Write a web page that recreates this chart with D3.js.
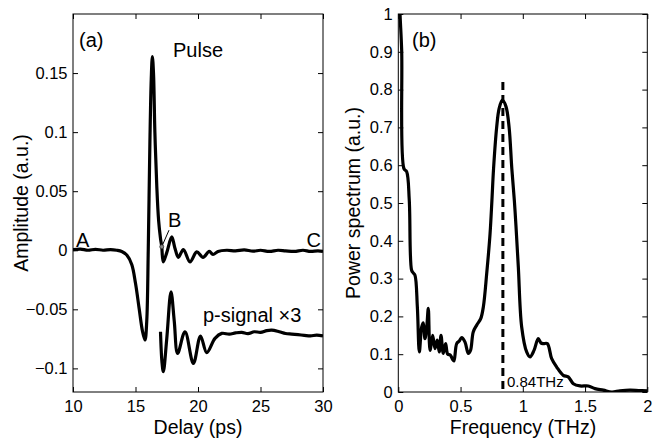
<!DOCTYPE html>
<html>
<head>
<meta charset="utf-8">
<script src="https://cdn.jsdelivr.net/npm/d3@7"></script>
<style>
  body { margin: 0; background: #fff; }
  text { font-family: "Liberation Sans", Arial, sans-serif; fill: #000; }
</style>
</head>
<body>
<div id="chart"></div>
<script>
// panel (a): time-domain pulse, delay in ps
const pulseT = [10, 10.6, 11.2, 11.8, 12.4, 13, 13.5, 13.9, 14.3, 14.7, 15.0, 15.3, 15.55, 15.76, 15.9, 16.02, 16.15, 16.26, 16.35, 16.44, 16.55, 16.7, 16.85, 17.0, 17.1, 17.22, 17.5, 17.9, 18.15, 18.43, 18.83, 19.36, 19.9, 20.4, 20.9, 21.2, 21.6, 22.3, 23, 23.7, 24.4, 25, 25.7, 26.4, 27, 27.7, 28.4, 29, 29.6, 30];
const pulseV = [0.0005, 0.001, 0.0, 0.0008, 0.0, 0.0005, 0.0, -0.001, -0.004, -0.012, -0.028, -0.05, -0.068, -0.076, -0.06, 0.0, 0.09, 0.145, 0.164, 0.15, 0.1, 0.055, 0.025, 0.01, 0.003, -0.0099, -0.002, 0.0113, 0.002, -0.006, 0.0006, -0.0099, -0.0014, -0.006, -0.001, -0.0036, -0.001, 0.0, -0.0005, 0.0003, -0.0008, 0.0, -0.001, 0.0, -0.0005, -0.001, 0.0, -0.001, -0.0005, -0.001];

// p-signal x3 (plotted as is)
const psigT = [17.0, 17.12, 17.23, 17.5, 17.84, 18.1, 18.37, 18.96, 19.63, 20.2, 20.7, 21.36, 21.9, 22.5, 23, 23.5, 24, 24.5, 25, 25.5, 25.9, 26.5, 27, 27.5, 28, 28.5, 29, 29.5, 30];
const psigV = [-0.069, -0.095, -0.1028, -0.075, -0.0352, -0.06, -0.0873, -0.069, -0.0957, -0.0726, -0.0867, -0.0746, -0.0704, -0.071, -0.070, -0.0695, -0.0705, -0.069, -0.0695, -0.068, -0.0676, -0.069, -0.0705, -0.071, -0.0715, -0.072, -0.0725, -0.0718, -0.0726];

// panel (b): power spectrum, frequency in THz
const freq = [0.005, 0.014, 0.027, 0.046, 0.067, 0.088, 0.107, 0.12, 0.134, 0.153, 0.169, 0.188, 0.201, 0.214, 0.228, 0.241, 0.255, 0.276, 0.295, 0.313, 0.329, 0.343, 0.361, 0.38, 0.397, 0.417, 0.437, 0.447, 0.469, 0.49, 0.509, 0.536, 0.562, 0.58, 0.602, 0.63, 0.662, 0.683, 0.71, 0.737, 0.752, 0.765, 0.79, 0.81, 0.836, 0.865, 0.89, 0.912, 0.932, 0.945, 0.964, 0.991, 1.031, 1.058, 1.09, 1.124, 1.145, 1.165, 1.197, 1.232, 1.272, 1.325, 1.365, 1.406, 1.46, 1.526, 1.58, 1.647, 1.714, 1.78, 1.86, 1.93, 2.0];
const power = [1.1, 1.0, 0.905, 0.59, 0.583, 0.508, 0.322, 0.315, 0.309, 0.225, 0.106, 0.172, 0.183, 0.141, 0.17, 0.221, 0.11, 0.15, 0.115, 0.137, 0.106, 0.15, 0.102, 0.128, 0.1, 0.098, 0.086, 0.082, 0.128, 0.135, 0.144, 0.132, 0.102, 0.11, 0.159, 0.177, 0.194, 0.225, 0.313, 0.419, 0.507, 0.59, 0.70, 0.75, 0.772, 0.755, 0.70, 0.59, 0.507, 0.44, 0.331, 0.172, 0.106, 0.093, 0.11, 0.141, 0.13, 0.128, 0.128, 0.088, 0.066, 0.044, 0.04, 0.022, 0.016, 0.016, 0.009, 0.005, 0.0, 0.003, 0.005, 0.004, 0.003];

const peakFreq = 0.84;
const peakLabel = "0.84THz";

const delayTicks = [10, 15, 20, 25, 30];
const ampTicks = [-0.1, -0.05, 0, 0.05, 0.1, 0.15];
const freqTicks = [0, 0.5, 1, 1.5, 2];
const powTicks = [0, 0.1, 0.2, 0.3, 0.4, 0.5, 0.6, 0.7, 0.8, 0.9, 1];

const W = 661, H = 439;
const svg = d3.select("#chart").append("svg")
    .attr("width", W).attr("height", H);

const yTop = 14, yBot = 392;
const fmt = d3.format("");

function frame(g, x, y, xt, yt, id) {
    const [x0, x1] = x.range(), [y1, y0] = y.range();
    // inward ticks on all four sides
    g.append("g").attr("transform", `translate(0,${y1})`)
        .call(d3.axisBottom(x).tickValues(xt).tickFormat(fmt).tickSizeInner(-5).tickSizeOuter(0).tickPadding(8))
        .call(a => a.select(".domain").remove());
    g.append("g").attr("transform", `translate(0,${y0})`)
        .call(d3.axisTop(x).tickValues(xt).tickSizeInner(-5).tickSizeOuter(0).tickFormat(""))
        .call(a => a.select(".domain").remove());
    g.append("g").attr("transform", `translate(${x0},0)`)
        .call(d3.axisLeft(y).tickValues(yt).tickFormat(fmt).tickSizeInner(-5).tickSizeOuter(0).tickPadding(5.5))
        .call(a => a.select(".domain").remove());
    g.append("g").attr("transform", `translate(${x1},0)`)
        .call(d3.axisRight(y).tickValues(yt).tickSizeInner(-5).tickSizeOuter(0).tickFormat(""))
        .call(a => a.select(".domain").remove());
    g.selectAll(".tick text").style("font-size", "16.5px")
        .style("font-family", '"Liberation Sans", Arial, sans-serif');
    g.selectAll(".tick line").attr("stroke", "#000");
    g.append("rect").attr("x", x0).attr("y", y0)
        .attr("width", x1 - x0).attr("height", y1 - y0)
        .attr("fill", "none").attr("stroke", "#000").attr("stroke-width", 1);
    svg.append("clipPath").attr("id", id).append("rect")
        .attr("x", x0).attr("y", y0).attr("width", x1 - x0).attr("height", y1 - y0);
}

// ---- panel (a)
const xa = d3.scaleLinear().domain([10, 30]).range([73, 323]);
const ya = d3.scaleLinear().domain([-0.12, 0.2]).range([yBot, yTop]);
const ga = svg.append("g");
frame(ga, xa, ya, delayTicks, ampTicks, "clipA");

const lineA = d3.line().x(d => xa(d[0])).y(d => ya(d[1])).curve(d3.curveCatmullRom.alpha(0.5));
const ca = ga.append("g").attr("clip-path", "url(#clipA)");
ca.append("path").datum(d3.zip(pulseT, pulseV)).attr("d", lineA)
    .attr("fill", "none").attr("stroke", "#000").attr("stroke-width", 3.2).attr("stroke-linejoin", "round");
ca.append("path").datum(d3.zip(psigT, psigV)).attr("d", lineA)
    .attr("fill", "none").attr("stroke", "#000").attr("stroke-width", 3.2).attr("stroke-linejoin", "round");

// B marker
ga.append("line").attr("x1", xa(17.1)).attr("y1", ya(0.003))
    .attr("x2", xa(17.68)).attr("y2", ya(0.017)).attr("stroke", "#000").attr("stroke-width", 1);
ga.append("circle").attr("cx", xa(17.1)).attr("cy", ya(0.003)).attr("r", 2)
    .attr("fill", "#888").attr("stroke", "#333").attr("stroke-width", 0.8);

ga.append("text").attr("x", 79).attr("y", 47).style("font-size", "20px").text("(a)");
ga.append("text").attr("x", 173).attr("y", 57).style("font-size", "20px").text("Pulse");
ga.append("text").attr("x", 76).attr("y", 247).style("font-size", "20px").text("A");
ga.append("text").attr("x", 168).attr("y", 227).style("font-size", "20px").text("B");
ga.append("text").attr("x", 321).attr("y", 247).attr("text-anchor", "end").style("font-size", "20px").text("C");
ga.append("text").attr("x", 203).attr("y", 322).style("font-size", "20px").text("p-signal \u00d73");
ga.append("text").attr("x", 198).attr("y", 434).attr("text-anchor", "middle").style("font-size", "19.5px").text("Delay (ps)");
ga.append("text").attr("transform", `translate(28,${(yTop + yBot) / 2}) rotate(-90)`)
    .attr("text-anchor", "middle").style("font-size", "19.5px").text("Amplitude (a.u.)");

// ---- panel (b)
const xb = d3.scaleLinear().domain([0, 2]).range([398.3, 647.3]);
const yb = d3.scaleLinear().domain([0, 1]).range([yBot, yTop]);
const gb = svg.append("g");
frame(gb, xb, yb, freqTicks, powTicks, "clipB");

gb.append("line").attr("x1", xb(peakFreq)).attr("x2", xb(peakFreq))
    .attr("y1", yb(0.82)).attr("y2", yb(0))
    .attr("stroke", "#000").attr("stroke-width", 3).attr("stroke-dasharray", "8,5");

const lineB = d3.line().x(d => xb(d[0])).y(d => yb(d[1])).curve(d3.curveCatmullRom.alpha(0.5));
gb.append("g").attr("clip-path", "url(#clipB)")
    .append("path").datum(d3.zip(freq, power)).attr("d", lineB)
    .attr("fill", "none").attr("stroke", "#000").attr("stroke-width", 3.2).attr("stroke-linejoin", "round");

gb.append("text").attr("x", 412).attr("y", 47).style("font-size", "20px").text("(b)");
gb.append("text").attr("x", 507).attr("y", 387).style("font-size", "15px").text(peakLabel);
gb.append("text").attr("x", 523).attr("y", 434).attr("text-anchor", "middle").style("font-size", "19.5px").text("Frequency (THz)");
gb.append("text").attr("transform", `translate(360,${(yTop + yBot) / 2}) rotate(-90)`)
    .attr("text-anchor", "middle").style("font-size", "19.5px").text("Power spectrum (a.u.)");
</script>
</body>
</html>
